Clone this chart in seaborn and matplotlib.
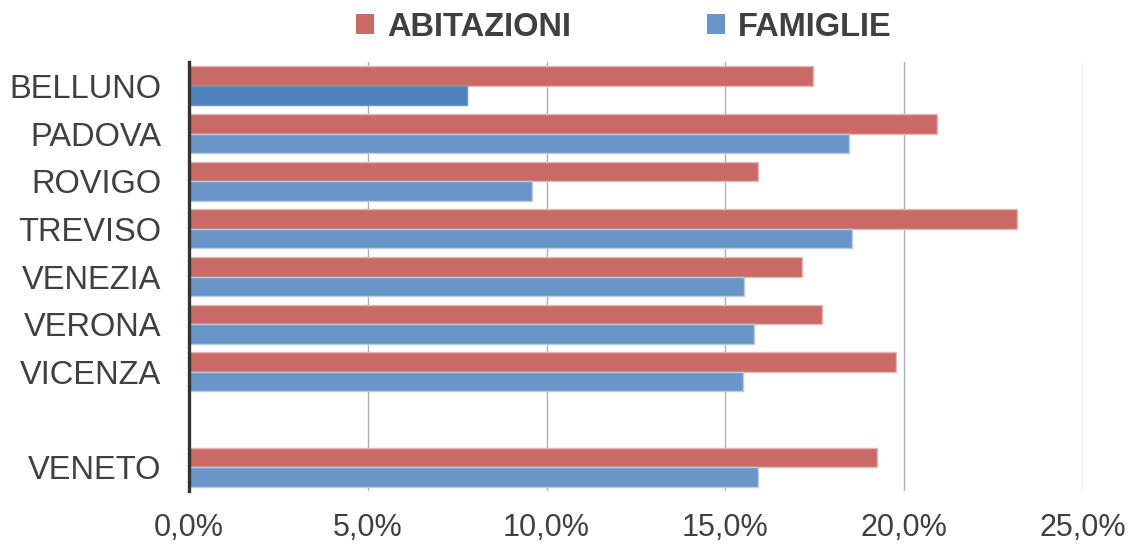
import matplotlib
matplotlib.use("Agg")
import matplotlib.pyplot as plt
import seaborn as sns
import pandas as pd
from matplotlib.ticker import FuncFormatter, MultipleLocator

province = ["BELLUNO", "PADOVA", "ROVIGO", "TREVISO", "VENEZIA", "VERONA", "VICENZA", "VENETO"]
abitazioni = [17.45, 20.93, 15.91, 23.17, 17.15, 17.71, 19.76, 19.25]
famiglie = [7.77, 18.47, 9.58, 18.54, 15.53, 15.80, 15.50, 15.91]
order = ["BELLUNO", "PADOVA", "ROVIGO", "TREVISO", "VENEZIA", "VERONA", "VICENZA", " ", "VENETO"]

df = pd.DataFrame({
    "provincia": province * 2,
    "quota": [v / 100 for v in abitazioni + famiglie],
    "serie": ["ABITAZIONI"] * len(province) + ["FAMIGLIE"] * len(province),
})

sns.set_theme(style="white")
plt.rcParams["font.family"] = ["Liberation Sans", "DejaVu Sans"]

red = "#C96A67"
blue = "#6A95C8"
grey_txt = "#404040"

fig = plt.figure(figsize=(11.28, 5.45), dpi=100)
ax = fig.add_axes([0.1676, 0.099, 0.7924, 0.787])

sns.barplot(data=df, y="provincia", x="quota", hue="serie", order=order,
            palette={"ABITAZIONI": red, "FAMIGLIE": blue}, saturation=1,
            width=0.82, edgecolor="#E6B8B7", linewidth=1.0, ax=ax)

# edge colours per serie, Belluno famiglie is darker
for bar in ax.containers[1]:
    bar.set_edgecolor("#B9CDE5")
ax.containers[1][0].set_facecolor("#4F81BD")
ax.containers[1][0].set_edgecolor("#6A95C8")

ax.set_xlim(0, 0.25)
ax.set_ylim(8.5, -0.5)
ax.xaxis.set_major_locator(MultipleLocator(0.05))
ax.xaxis.set_major_formatter(FuncFormatter(lambda v, p: f"{v*100:.1f}%".replace(".", ",")))
ax.grid(axis="x", color="#B0B0B0", linewidth=1.0)
ax.set_axisbelow(True)
ax.set_xlabel("")
ax.set_ylabel("")

for s in ["top", "right", "bottom"]:
    ax.spines[s].set_visible(False)
ax.spines["left"].set_color("#333333")
ax.spines["left"].set_linewidth(2.4)

ax.tick_params(axis="both", length=0, labelcolor=grey_txt)
ax.tick_params(axis="y", pad=20, labelsize=23.5)
ax.tick_params(axis="x", pad=16, labelsize=22)

sns.move_legend(ax, "center", bbox_to_anchor=(0.553, 0.95), bbox_transform=fig.transFigure,
                ncol=2, frameon=False, title=None, handlelength=0.55, handleheight=0.55,
                handletextpad=0.4, columnspacing=4.15,
                prop={"size": 23.5, "weight": "bold"})
leg = ax.get_legend()
for t in leg.get_texts():
    t.set_color(grey_txt)
for h in leg.legend_handles:
    h.set_edgecolor("none")

fig.savefig("out.png", dpi=100)
